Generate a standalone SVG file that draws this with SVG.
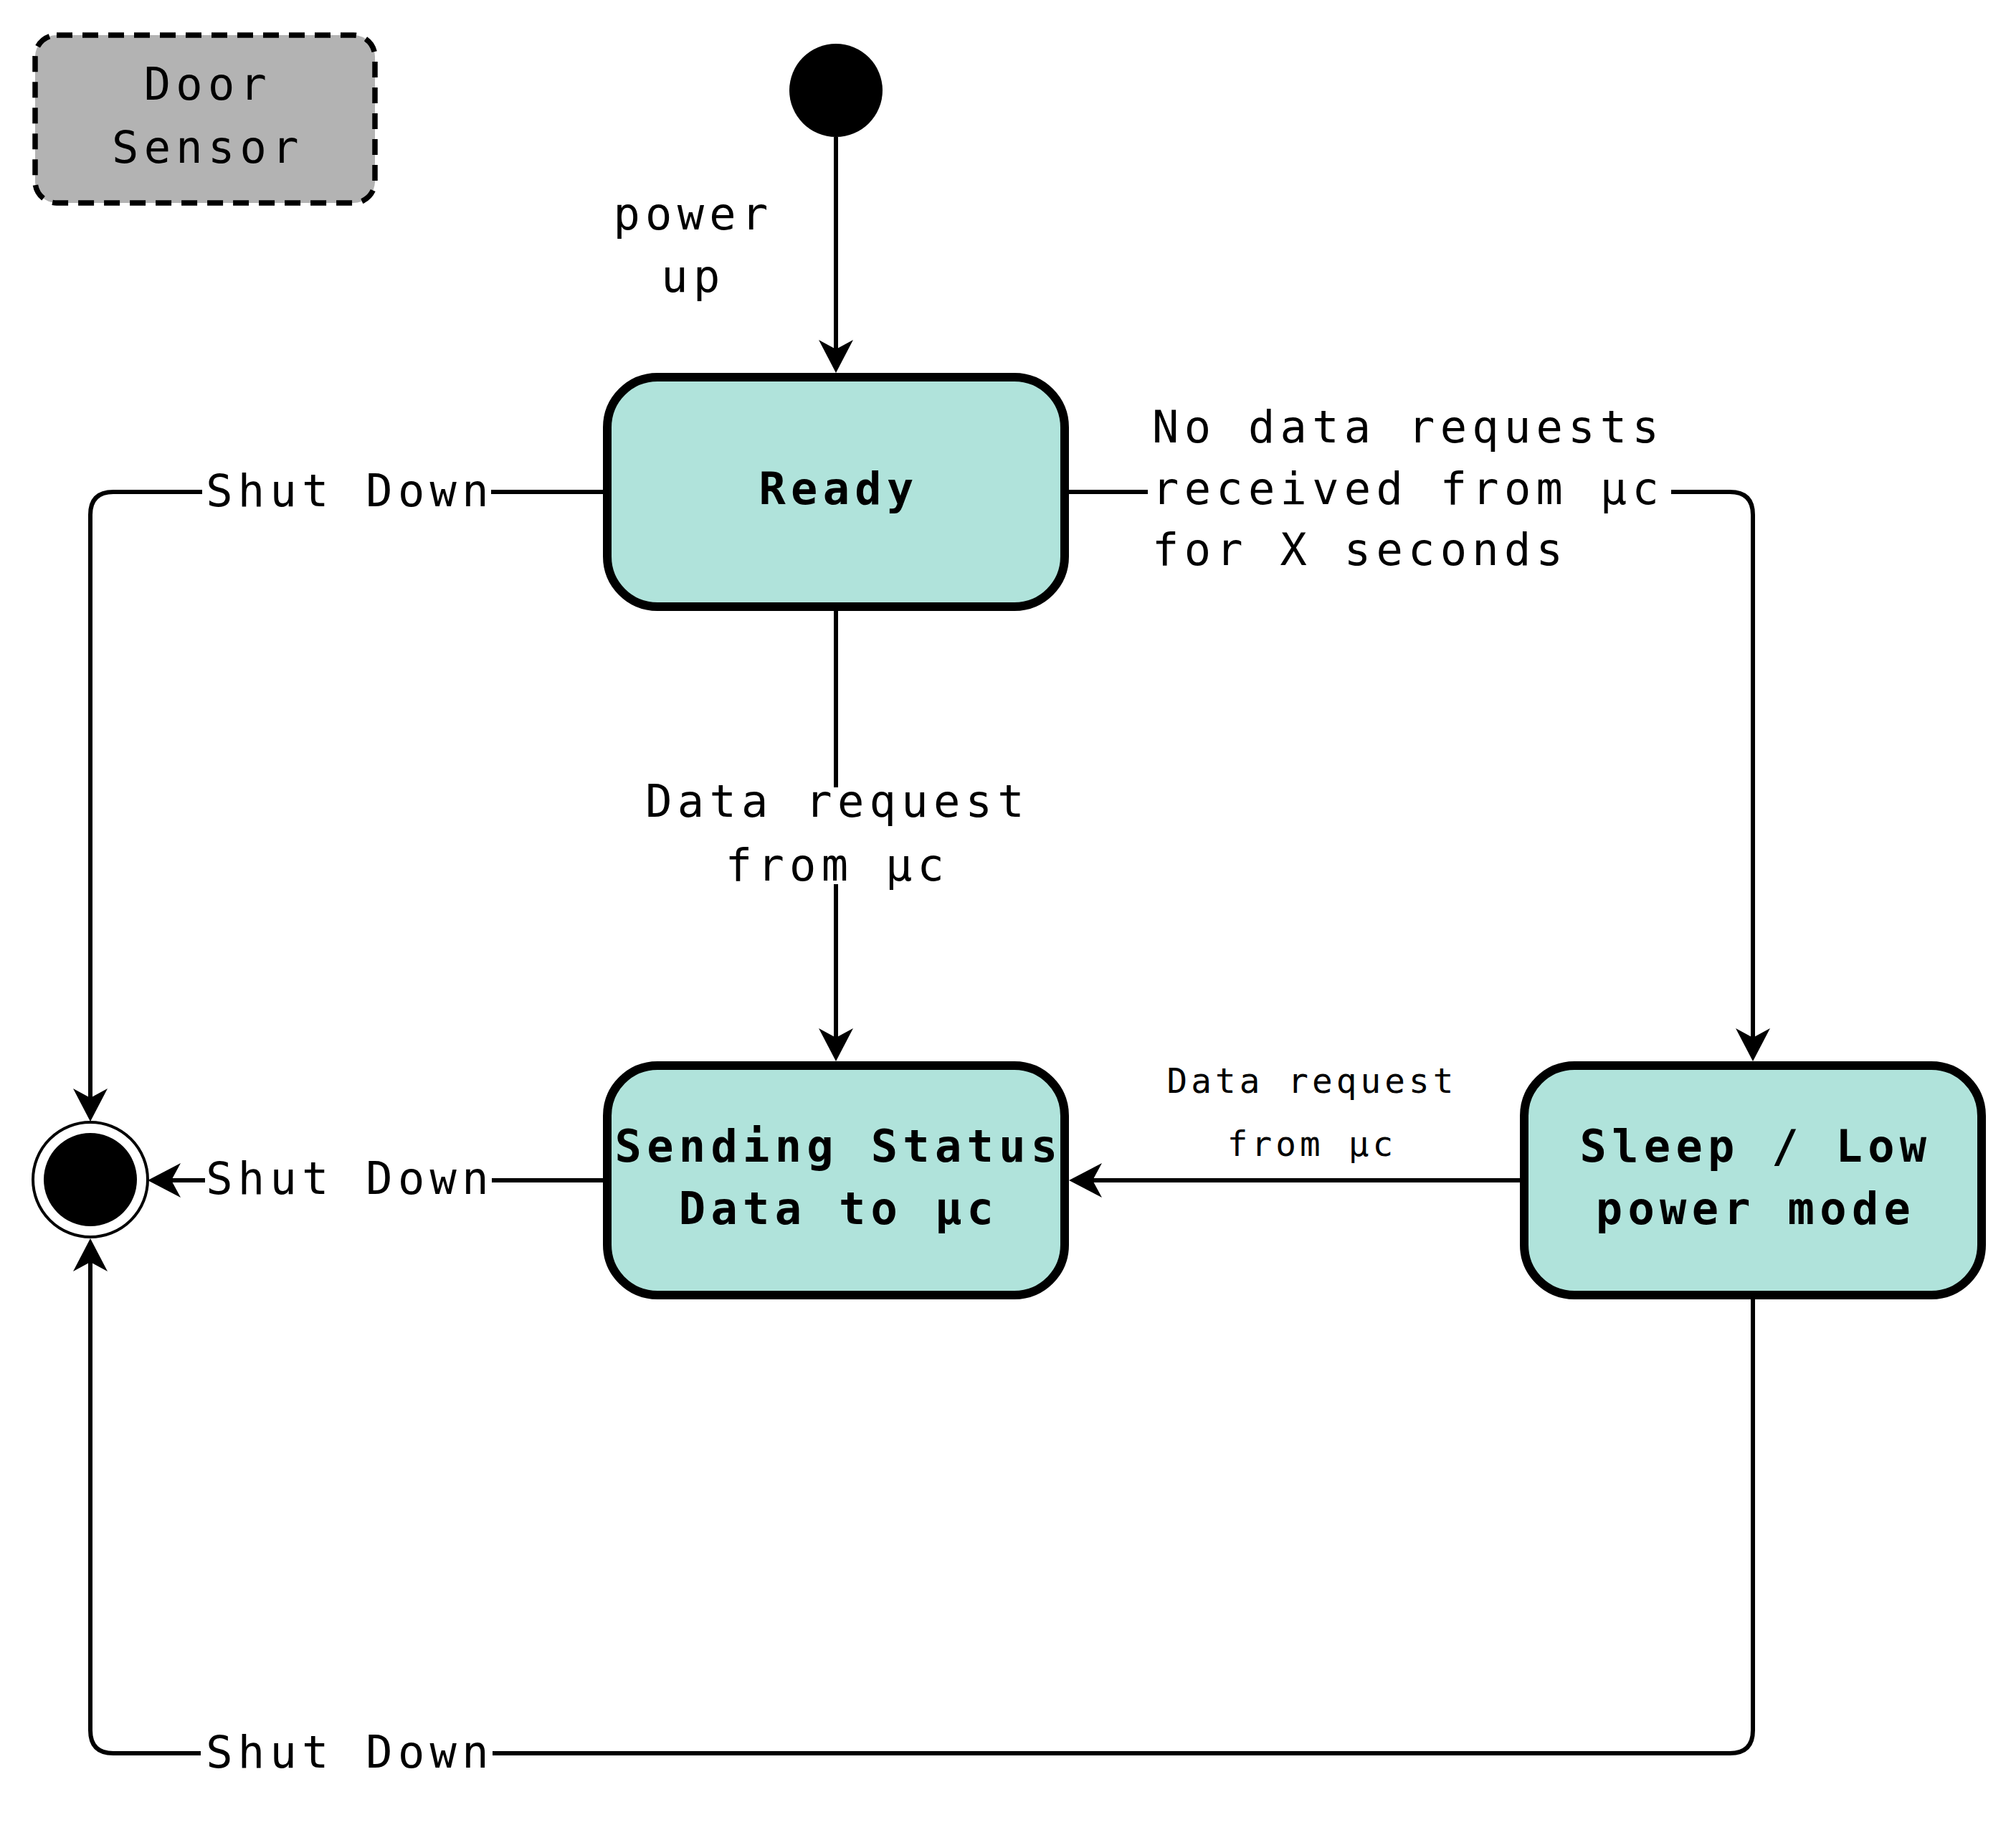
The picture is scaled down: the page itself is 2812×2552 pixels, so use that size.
<svg xmlns="http://www.w3.org/2000/svg" width="2812" height="2552" viewBox="0 0 2812 2552">
<style>
  .state rect { fill: #b0e3db; stroke: #000; stroke-width: 12; }
  .t { font-family: "DejaVu Sans Mono", "Liberation Mono", monospace; fill: #000; }
  .big { font-size: 62px; letter-spacing: 7.3px; }
  .small { font-size: 47.6px; letter-spacing: 5.1px; }
  .bold { font-weight: bold; }
  .mid { text-anchor: middle; }
  .edge { fill: none; stroke: #000; stroke-width: 6; }
</style>
<defs>
  <marker id="arrow" markerUnits="userSpaceOnUse" viewBox="-20 -26 54 52" markerWidth="54" markerHeight="52" refX="0" refY="0" orient="auto" overflow="visible">
    <path d="M30,0 L-16,-24 L-3,0 L-16,24 Z" fill="#000"/>
  </marker>
</defs>
<rect width="2812" height="2552" fill="#fff"/>

<g id="door-sensor">
  <rect x="49" y="49" width="474" height="234" rx="30" ry="30" fill="#b3b3b3" stroke="#000" stroke-width="7.5" stroke-dasharray="22 14"/>
  <text class="t big mid" x="290" y="139">Door</text>
  <text class="t big mid" x="290" y="227">Sensor</text>
</g>

<g id="initial">
  <circle cx="1166" cy="126" r="65" fill="#000"/>
</g>

<g id="final">
  <circle cx="126" cy="1645" r="80" fill="#fff" stroke="#000" stroke-width="4"/>
  <circle cx="126" cy="1645" r="65" fill="#000"/>
</g>

<g id="ready" class="state">
  <rect x="847" y="526" width="638" height="320" rx="70" ry="70"/>
  <text class="t big bold mid" x="1170" y="703">Ready</text>
</g>

<g id="sending" class="state">
  <rect x="847" y="1486" width="638" height="320" rx="70" ry="70"/>
  <text class="t big bold mid" x="1170" y="1620">Sending Status</text>
  <text class="t big bold mid" x="1170" y="1707">Data to μc</text>
</g>

<g id="sleep" class="state">
  <rect x="2126" y="1486" width="638" height="320" rx="70" ry="70"/>
  <text class="t big bold mid" x="2449" y="1620">Sleep / Low</text>
  <text class="t big bold mid" x="2449" y="1707">power mode</text>
</g>

<g id="connectors">
  <!-- initial -> ready -->
  <path class="edge" d="M1166,191 V490" marker-end="url(#arrow)"/>
  <text class="t big mid" x="967" y="320">power</text>
  <text class="t big mid" x="967" y="407">up</text>

  <!-- ready -> final -->
  <path class="edge" d="M847,686 H685"/>
  <path class="edge" d="M282,686 H158 Q126,686 126,718 V1534" marker-end="url(#arrow)"/>
  <text class="t big mid" x="488" y="706">Shut Down</text>

  <!-- ready -> sending -->
  <path class="edge" d="M1166,846 V1098"/>
  <path class="edge" d="M1166,1233 V1450" marker-end="url(#arrow)"/>
  <text class="t big mid" x="1168" y="1139">Data request</text>
  <text class="t big mid" x="1168" y="1228">from μc</text>

  <!-- ready -> sleep -->
  <path class="edge" d="M1485,686 H1601"/>
  <path class="edge" d="M2331,686 H2413 Q2445,686 2445,718 V1450" marker-end="url(#arrow)"/>
  <text class="t big" x="1607" y="617">No data requests</text>
  <text class="t big" x="1607" y="703">received from μc</text>
  <text class="t big" x="1607" y="788">for X seconds</text>

  <!-- sleep -> sending -->
  <path class="edge" d="M2126,1646 H1521" marker-end="url(#arrow)"/>
  <text class="t small mid" x="1830" y="1524">Data request</text>
  <text class="t small mid" x="1830" y="1612">from μc</text>

  <!-- sending -> final -->
  <path class="edge" d="M847,1646 H686"/>
  <path class="edge" d="M286,1646 H236" marker-end="url(#arrow)"/>
  <text class="t big mid" x="488" y="1665">Shut Down</text>

  <!-- sleep -> final -->
  <path class="edge" d="M2445,1806 V2413 Q2445,2445 2413,2445 H687"/>
  <path class="edge" d="M280,2445 H158 Q126,2445 126,2413 V1757" marker-end="url(#arrow)"/>
  <text class="t big mid" x="488" y="2465">Shut Down</text>
</g>
</svg>
